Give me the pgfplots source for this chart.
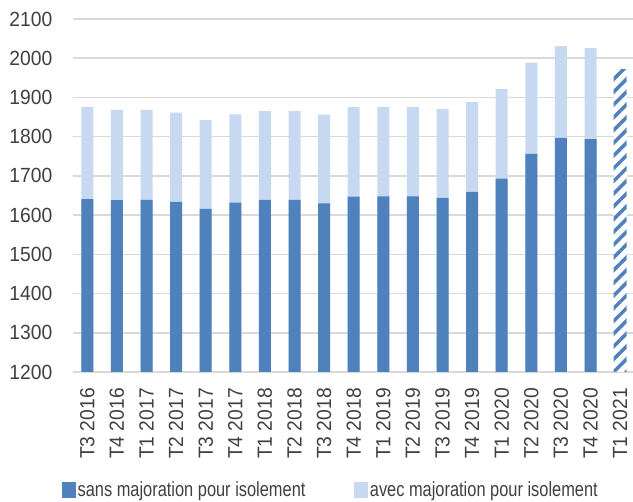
\documentclass[border=0pt]{standalone}
\usepackage{pgfplots}
\pgfplotsset{compat=1.18}
\usepackage{pgfplotstable}
\usetikzlibrary{patterns.meta}
\usepackage{fontspec}
\setmainfont{Liberation Sans}[FakeStretch=0.80]
\newfontfamily\tickfont{Liberation Sans}[FakeStretch=0.94]
\definecolor{darkblue}{HTML}{4F81BD}
\definecolor{lightblue}{HTML}{C6D9F0}
\definecolor{gridgray}{HTML}{D9D9D9}
\definecolor{txt}{HTML}{404040}

\pgfplotstableread{
x sans total
0 1641 1875
1 1638 1868
2 1639 1868
3 1634 1861
4 1616 1842
5 1632 1857
6 1639 1865
7 1639 1865
8 1630 1856
9 1647 1876
10 1648 1875
11 1648 1875
12 1644 1870
13 1659 1888
14 1693 1921
15 1756 1989
16 1797 2031
17 1794 2026
}\datatable

\pgfplotstableread{
x total
18 1972
}\lasttable

\begin{document}
\begin{tikzpicture}
\begin{axis}[
  at={(72.5pt,130pt)}, anchor=south west,
  scale only axis,
  width=562.4pt, height=353pt,
  xmin=-0.5, xmax=18.5,
  ymin=1200, ymax=2100,
  ytick={1200,1300,...,2100},
  xtick={0,...,18},
  xticklabels={T3 2016,T4 2016,T1 2017,T2 2017,T3 2017,T4 2017,T1 2018,T2 2018,T3 2018,T4 2018,T1 2019,T2 2019,T3 2019,T4 2019,T1 2020,T2 2020,T3 2020,T4 2020,T1 2021},
  axis line style={draw=none},
  major tick length=0pt,
  ymajorgrids,
  major grid style={draw=gridgray, line width=1.5pt},
  /pgf/number format/assume math mode=true,
  /pgf/number format/set thousands separator={},
  every tick label/.append style={font=\tickfont\fontsize{20.5}{24}\selectfont, text=txt},
  yticklabel style={inner sep=0pt, anchor=east, xshift=-20pt},
  xticklabel style={inner sep=0pt, rotate=90, anchor=east},
  xticklabel shift=16pt,
  legend style={at={(0,0)}, anchor=west, xshift=-10.5pt, yshift=-118pt,
    draw=none, fill=none, inner sep=0pt,
    font=\fontsize{20.5}{24}\selectfont, text=txt,
    legend columns=2,
    /tikz/every even column/.append style={column sep=47pt},
    nodes={inner sep=2pt}},
  legend cell align=left,
]
\addplot[ybar, bar width=12pt, bar shift=0pt, fill=lightblue, draw=none, forget plot] table[x=x, y=total] {\datatable};
\addplot[ybar, bar width=12pt, bar shift=0pt, fill=darkblue, draw=none, forget plot] table[x=x, y=sans] {\datatable};
\addplot[ybar, bar width=13pt, bar shift=0pt, draw=none, fill=white,
  postaction={pattern={Lines[angle=45, distance=9pt, line width=3.5pt]}, pattern color=darkblue}, forget plot] table[x=x, y=total] {\lasttable};
\addlegendimage{legend image code/.code={\fill[darkblue] (0pt,-7.5pt) rectangle (13pt,7.5pt);}}
\addlegendentry{sans majoration pour isolement}
\addlegendimage{legend image code/.code={\fill[lightblue] (0pt,-7.5pt) rectangle (13pt,7.5pt);}}
\addlegendentry{avec majoration pour isolement}
\end{axis}
\pgfresetboundingbox
\useasboundingbox (0,0) rectangle (633pt,502pt);
\end{tikzpicture}
\end{document}
